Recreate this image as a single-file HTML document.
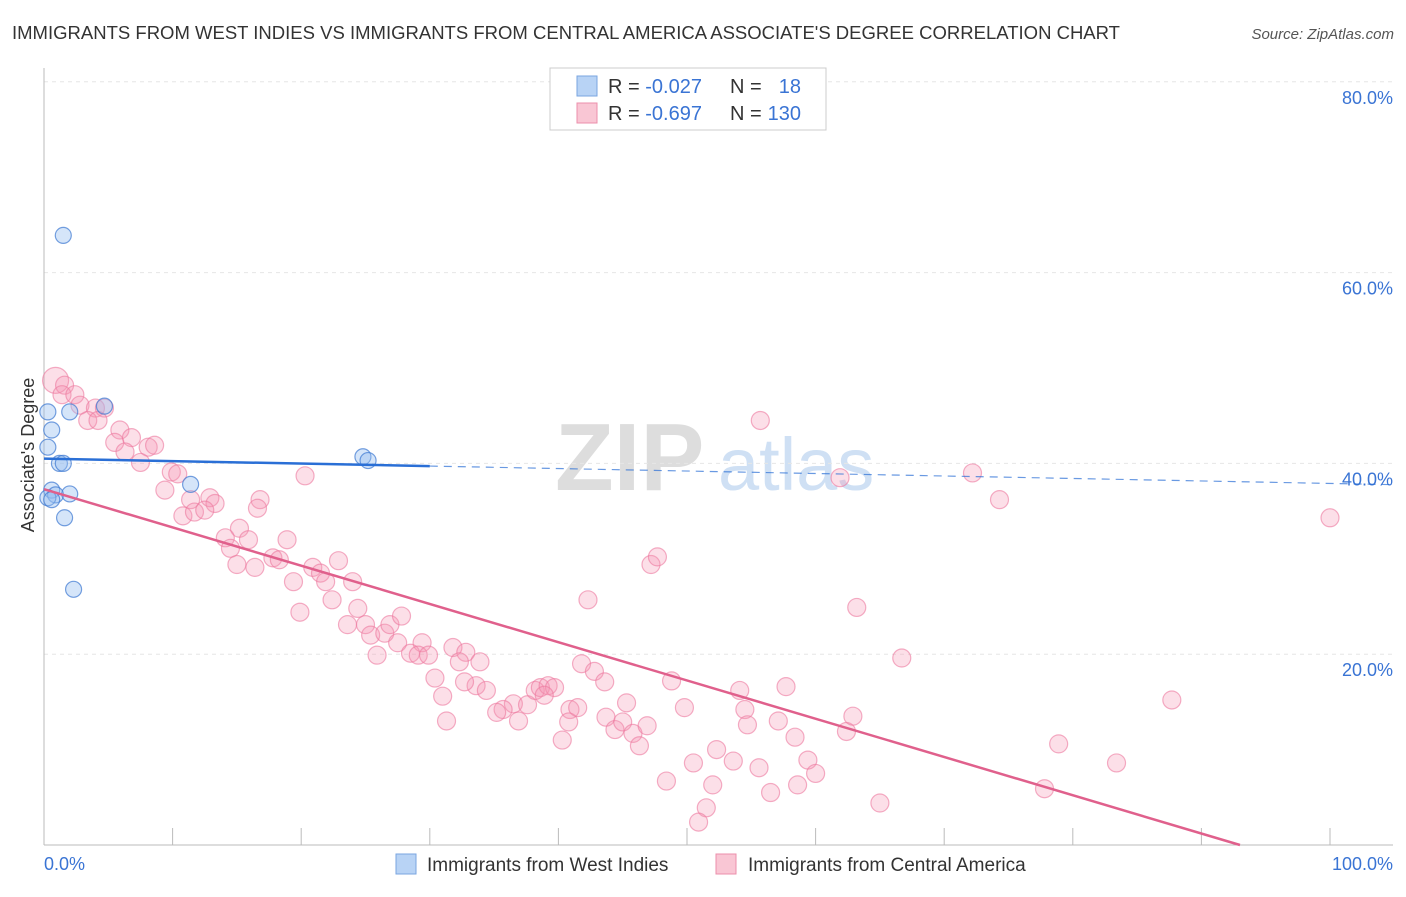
<!DOCTYPE html>
<html><head><meta charset="utf-8"><style>
body{margin:0;background:#fff;font-family:"Liberation Sans",sans-serif}
svg text{font-family:"Liberation Sans",sans-serif}
</style></head><body>
<svg id="c" width="1406" height="892" viewBox="0 0 1406 892">
<text x="12" y="39" font-size="18.5" fill="#333" textLength="1108" lengthAdjust="spacingAndGlyphs">IMMIGRANTS FROM WEST INDIES VS IMMIGRANTS FROM CENTRAL AMERICA ASSOCIATE'S DEGREE CORRELATION CHART</text>
<text x="1394" y="39" font-size="15" fill="#555" font-style="italic" text-anchor="end">Source: ZipAtlas.com</text>
<g><text x="555" y="490" font-size="96" fill="#ddd" font-family="Liberation Serif" font-weight="bold">ZIP</text><text x="718" y="490" font-size="74" fill="#cfe0f4">atlas</text></g>
<g id="grid"></g>
<g id="axes"></g>
<g id="pts"></g>
<g id="lines"></g>
<text x="34" y="455" font-size="18" fill="#333" text-anchor="middle" transform="rotate(-90 34 455)">Associate's Degree</text>
<g>
<rect x="550" y="68" width="276" height="62" fill="#fff" stroke="#ccc"/>
<rect x="577" y="76" width="20" height="20" fill="#b8d3f5" stroke="#7aa6e0"/>
<rect x="577" y="103" width="20" height="20" fill="#f9c6d4" stroke="#ec8fab"/>
<text x="608" y="93" font-size="20" fill="#333">R = <tspan fill="#3a74d4">-0.027</tspan></text>
<text x="730" y="93" font-size="20" fill="#333">N =</text>
<text x="801" y="93" font-size="20" fill="#3a74d4" text-anchor="end">18</text>
<text x="608" y="120" font-size="20" fill="#333">R = <tspan fill="#3a74d4">-0.697</tspan></text>
<text x="730" y="120" font-size="20" fill="#333">N =</text>
<text x="801" y="120" font-size="20" fill="#3a74d4" text-anchor="end">130</text>
</g>
<g>
<rect x="396" y="854" width="20" height="20" fill="#b8d3f5" stroke="#7aa6e0"/>
<text x="427" y="871" font-size="19" fill="#333">Immigrants from West Indies</text>
<rect x="716" y="854" width="20" height="20" fill="#f9c6d4" stroke="#ec8fab"/>
<text x="748" y="871" font-size="19" fill="#333">Immigrants from Central America</text>
</g>
</svg>
<script>
const yTicks=[20,40,60,80];
const yTickLabels=["20.0%","40.0%","60.0%","80.0%"];
const xTickLabels=["0.0%","100.0%"];
const blueX=[1.5,0.3,0.6,0.3,2.0,4.7,1.2,1.5,0.6,0.9,0.3,2.0,1.6,2.3,11.4,24.8,25.2,0.6];
const blueY=[63.9,45.4,43.5,41.7,45.4,46.0,40.0,40.0,37.2,36.7,36.4,36.8,34.3,26.8,37.8,40.7,40.3,36.2];
const pinkX=[0.9,1.6,1.4,2.4,2.8,4.0,4.7,3.4,4.2,5.9,6.8,5.5,8.1,8.6,6.3,7.5,9.9,10.4,9.4,11.4,12.9,13.3,10.8,11.7,12.5,16.8,16.6,15.2,14.1,15.9,14.5,18.9,17.8,18.3,15.0,16.4,20.3,20.9,21.5,22.9,21.9,19.4,24.0,22.4,19.9,24.4,23.6,25.0,25.4,26.5,26.9,27.8,27.5,25.9,29.4,28.5,29.1,29.9,31.8,32.8,32.3,33.9,30.4,33.6,32.7,34.4,31.0,31.3,36.5,35.7,35.2,36.9,37.6,38.2,38.6,39.2,39.7,38.9,40.9,41.5,40.8,40.3,41.8,42.8,42.3,43.6,43.7,44.4,45.0,45.3,45.8,46.3,46.9,47.2,47.7,48.8,49.8,48.4,50.5,51.5,50.9,52.3,52.0,53.6,54.1,54.5,54.7,55.6,55.7,56.5,57.1,57.7,58.4,58.6,59.4,60.0,61.9,62.4,62.9,63.2,65.0,66.7,72.2,74.3,77.8,78.9,83.4,87.7,100];
const pinkY=[48.7,48.2,47.2,47.2,46.1,45.8,45.8,44.5,44.5,43.5,42.7,42.2,41.7,41.9,41.2,40.1,39.1,38.9,37.2,36.2,36.4,35.8,34.5,34.9,35.1,36.2,35.3,33.2,32.2,32.0,31.1,32.0,30.1,29.9,29.4,29.1,38.7,29.1,28.5,29.8,27.6,27.6,27.6,25.7,24.4,24.8,23.1,23.1,22.0,22.2,23.1,24.0,21.2,19.9,21.2,20.1,19.9,19.9,20.7,20.2,19.2,19.2,17.5,16.7,17.1,16.2,15.6,13.0,14.8,14.2,13.9,13.0,14.7,16.2,16.5,16.7,16.5,15.7,14.2,14.4,12.9,11.0,19.0,18.2,25.7,17.1,13.4,12.1,12.9,14.9,11.7,10.4,12.5,29.4,30.2,17.2,14.4,6.7,8.6,3.9,2.4,10.0,6.3,8.8,16.2,14.2,12.6,8.1,44.5,5.5,13.0,16.6,11.3,6.3,8.9,7.5,38.5,11.9,13.5,24.9,4.4,19.6,39.0,36.2,5.9,10.6,8.6,15.2,34.3];
const blueLine=[40.5,37.9];
const pinkLine=[37.3,0];
const pinkZeroX=93;
const X=v=>44+v*12.86, Y=v=>845-v*9.54;
const NS="http://www.w3.org/2000/svg";
function mk(t,a,p){const e=document.createElementNS(NS,t);for(const k in a)e.setAttribute(k,a[k]);p.appendChild(e);return e;}
const g=document.getElementById('grid'),ax=document.getElementById('axes'),pts=document.getElementById('pts'),ln=document.getElementById('lines');
yTicks.forEach((t,i)=>{
 const l=mk('line',{x1:44,x2:1393,y1:Y(t),y2:Y(t),stroke:'#e6e6e6','stroke-dasharray':'4,4'},g);
 
 
 const tx=mk('text',{x:1393,y:Y(t)+22,'font-size':18,fill:'#3a74d4','text-anchor':'end'},ax);tx.textContent=yTickLabels[i];
 
 
});
mk('line',{x1:44,x2:44,y1:68,y2:845,stroke:'#bbb'},ax);
mk('line',{x1:44,x2:1393,y1:845,y2:845,stroke:'#bbb'},ax);
for(let i=0;i<=10;i++){const tk=mk('line',{x1:X(i*10),x2:X(i*10),y1:828,y2:845,stroke:'#bbb'},ax);
 
 }
const x0=mk('text',{x:44,y:870,'font-size':18,fill:'#3a74d4'},ax);x0.textContent=xTickLabels[0];


const x1=mk('text',{x:1393,y:870,'font-size':18,fill:'#3a74d4','text-anchor':'end'},ax);x1.textContent=xTickLabels[1];


pinkX.forEach((v,i)=>{const c=mk('circle',{cx:X(v),cy:Y(pinkY[i]),r:i==0?13:9,fill:'rgba(244,150,180,0.3)',stroke:'rgba(236,120,158,0.6)','stroke-width':1.2},pts);
 
 });
blueX.forEach((v,i)=>{const c=mk('circle',{cx:X(v),cy:Y(blueY[i]),r:8,fill:'rgba(150,190,240,0.4)',stroke:'rgba(60,120,210,0.7)','stroke-width':1.2},pts);
 
 });
const by=x=>blueLine[0]+(blueLine[1]-blueLine[0])*x/100;
const b1=mk('line',{x1:X(0),y1:Y(by(0)),x2:X(30),y2:Y(by(30)),stroke:'#2a6fd6','stroke-width':2.5},ln);


const b2=mk('line',{x1:X(30),y1:Y(by(30)),x2:X(105),y2:Y(by(105)),stroke:'#2a6fd6','stroke-width':1.2,'stroke-dasharray':'8,6','opacity':0.7},ln);


const p1=mk('line',{x1:X(0),y1:Y(pinkLine[0]),x2:X(pinkZeroX),y2:Y(pinkLine[1]),stroke:'#e0608c','stroke-width':2.5},ln);


</script>
</body></html>
